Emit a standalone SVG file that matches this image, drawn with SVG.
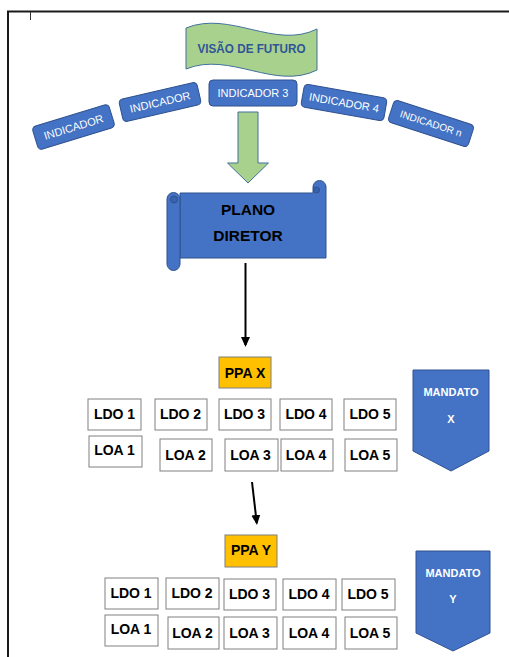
<svg xmlns="http://www.w3.org/2000/svg" width="509" height="657" viewBox="0 0 509 657">
<defs>
<style>
.t{font-family:"Liberation Sans",Arial,sans-serif;text-anchor:middle}
.ind rect{fill:#4472C4;stroke:#2F528F;stroke-width:1}
.ind text{fill:#fff;font-size:11px}
.box{fill:#fff;stroke:#808080;stroke-width:1}
.bt{font-size:14px;font-weight:bold;fill:#000}
.ppa{fill:#FFC000;stroke:#7F7F7F;stroke-width:1}
.mand{fill:#4472C4;stroke:#2F528F;stroke-width:1}
.mt{fill:#fff;font-size:11px;font-weight:bold}
.blue{fill:#4472C4;stroke:#2F528F;stroke-width:1}
.dark{fill:#3762AE;stroke:#2F528F;stroke-width:1}
.conn{stroke:#000;stroke-width:2;fill:none}
</style>
<marker id="ah" viewBox="0 0 10 10" refX="8" refY="5" markerWidth="10" markerHeight="10" markerUnits="userSpaceOnUse" orient="auto">
<path d="M0,0.5 L10,5 L0,9.5 Z" fill="#000"/>
</marker>
</defs>
<rect width="509" height="657" fill="#fff"/>
<path d="M8,670 V11.5 H520" fill="none" stroke="#1a1a1a" stroke-width="2"/>
<line x1="30.5" y1="12" x2="30.5" y2="20" stroke="#333" stroke-width="1"/>

<g id="visao">
<path d="M186,28 C230,10 275,50 317,29 L317,70 C275,91 230,51 186,69 Z" fill="#A9D18E" stroke="#41719C" stroke-width="1"/>
<text class="t" x="251.5" y="53" font-size="12.5" font-weight="bold" fill="#2F5597" textLength="108" lengthAdjust="spacingAndGlyphs">VISÃO DE FUTURO</text>
</g>

<g id="ind1" class="ind" transform="translate(73.5,127) rotate(-17)">
<rect x="-40" y="-12" width="80" height="24" rx="4"/>
<text class="t" y="4">INDICADOR</text>
</g>
<g id="ind2" class="ind" transform="translate(160,102) rotate(-13)">
<rect x="-40" y="-11.5" width="80" height="23" rx="4"/>
<text class="t" y="4">INDICADOR</text>
</g>
<g id="ind3" class="ind" transform="translate(253,93)">
<rect x="-44" y="-13" width="88" height="26" rx="4"/>
<text class="t" y="4">INDICADOR 3</text>
</g>
<g id="ind4" class="ind" transform="translate(344,102.5) rotate(10)">
<rect x="-42" y="-11.5" width="84" height="23" rx="4"/>
<text class="t" y="4">INDICADOR 4</text>
</g>
<g id="ind5" class="ind" transform="translate(431,123.5) rotate(18)">
<rect x="-42" y="-11.5" width="84" height="23" rx="4"/>
<text class="t" y="3.5" style="font-size:10px">INDICADOR n</text>
</g>

<g id="seta-verde">
<polygon points="238,112 258,112 258,163 268.5,163 248,183 227.5,163 238,163" fill="#A9D18E" stroke="#41719C" stroke-width="1"/>
</g>

<g id="plano">
<path class="blue" d="M180,193 H313 V187 A6.5,6.5 0 0 1 326,187 V258 H180 Z"/>
<circle class="dark" cx="316.5" cy="190" r="3"/>
<path class="blue" d="M180,199 V264 A6.5,6.5 0 0 1 167,264 V199 A6.5,6.5 0 0 1 180,199 Z"/>
<circle class="dark" cx="174" cy="199.5" r="3.5"/>
<text class="t" x="248" y="215" font-size="15.5" font-weight="bold" fill="#000">PLANO</text>
<text class="t" x="248" y="240.5" font-size="15.5" font-weight="bold" fill="#000">DIRETOR</text>
</g>

<g id="connectors">
<line class="conn" x1="245.5" y1="263" x2="245.5" y2="345" marker-end="url(#ah)"/>
<line class="conn" x1="252" y1="482" x2="256.77" y2="523" marker-end="url(#ah)"/>
</g>

<g id="ppa-x">
<rect class="ppa" x="219" y="357" width="52" height="31"/>
<text class="t bt" x="245" y="377.5">PPA X</text>
</g>
<g id="ldo1-x"><rect class="box" x="88" y="399" width="53" height="31"/><text class="t bt" x="114.5" y="418.5">LDO 1</text></g>
<g id="ldo2-x"><rect class="box" x="155" y="399" width="52" height="31"/><text class="t bt" x="180.5" y="418.5">LDO 2</text></g>
<g id="ldo3-x"><rect class="box" x="219" y="399" width="52" height="31"/><text class="t bt" x="244.5" y="418.5">LDO 3</text></g>
<g id="ldo4-x"><rect class="box" x="280" y="399" width="52" height="31"/><text class="t bt" x="306" y="418.5">LDO 4</text></g>
<g id="ldo5-x"><rect class="box" x="344" y="399" width="52" height="31"/><text class="t bt" x="370" y="418.5">LDO 5</text></g>
<g id="loa1-x"><rect class="box" x="89" y="436" width="53" height="31"/><text class="t bt" x="114.5" y="455">LOA 1</text></g>
<g id="loa2-x"><rect class="box" x="160" y="439" width="52" height="32"/><text class="t bt" x="185.5" y="460">LOA 2</text></g>
<g id="loa3-x"><rect class="box" x="225" y="439" width="53" height="32"/><text class="t bt" x="250.5" y="460">LOA 3</text></g>
<g id="loa4-x"><rect class="box" x="281" y="439" width="52" height="32"/><text class="t bt" x="306" y="460">LOA 4</text></g>
<g id="loa5-x"><rect class="box" x="345" y="439" width="52" height="32"/><text class="t bt" x="370" y="460">LOA 5</text></g>
<g id="mandato-x">
<polygon class="mand" points="413,370 489,370 489,451 451,471 413,451"/>
<text class="t mt" x="451" y="396">MANDATO</text>
<text class="t mt" x="451" y="423">X</text>
</g>

<g id="ppa-y">
<rect class="ppa" x="225" y="535" width="52" height="32"/>
<text class="t bt" x="251" y="555">PPA Y</text>
</g>
<g id="ldo1-y"><rect class="box" x="105" y="578" width="53" height="31"/><text class="t bt" x="131" y="597.5">LDO 1</text></g>
<g id="ldo2-y"><rect class="box" x="166" y="578" width="53" height="31"/><text class="t bt" x="192" y="597.5">LDO 2</text></g>
<g id="ldo3-y"><rect class="box" x="224" y="579" width="52" height="31"/><text class="t bt" x="249.5" y="598.5">LDO 3</text></g>
<g id="ldo4-y"><rect class="box" x="283" y="579" width="53" height="31"/><text class="t bt" x="309" y="598.5">LDO 4</text></g>
<g id="ldo5-y"><rect class="box" x="342" y="579" width="53" height="31"/><text class="t bt" x="368" y="598.5">LDO 5</text></g>
<g id="loa1-y"><rect class="box" x="105" y="615" width="53" height="31"/><text class="t bt" x="131" y="634">LOA 1</text></g>
<g id="loa2-y"><rect class="box" x="168" y="617" width="51" height="32"/><text class="t bt" x="192.5" y="637.5">LOA 2</text></g>
<g id="loa3-y"><rect class="box" x="224" y="617" width="53" height="32"/><text class="t bt" x="249.5" y="637.5">LOA 3</text></g>
<g id="loa4-y"><rect class="box" x="283" y="617" width="53" height="32"/><text class="t bt" x="309" y="637.5">LOA 4</text></g>
<g id="loa5-y"><rect class="box" x="345" y="617" width="52" height="32"/><text class="t bt" x="370" y="637.5">LOA 5</text></g>
<g id="mandato-y">
<polygon class="mand" points="416,551 490,551 490,633 453,651 416,633"/>
<text class="t mt" x="453" y="577">MANDATO</text>
<text class="t mt" x="453" y="603">Y</text>
</g>
</svg>
